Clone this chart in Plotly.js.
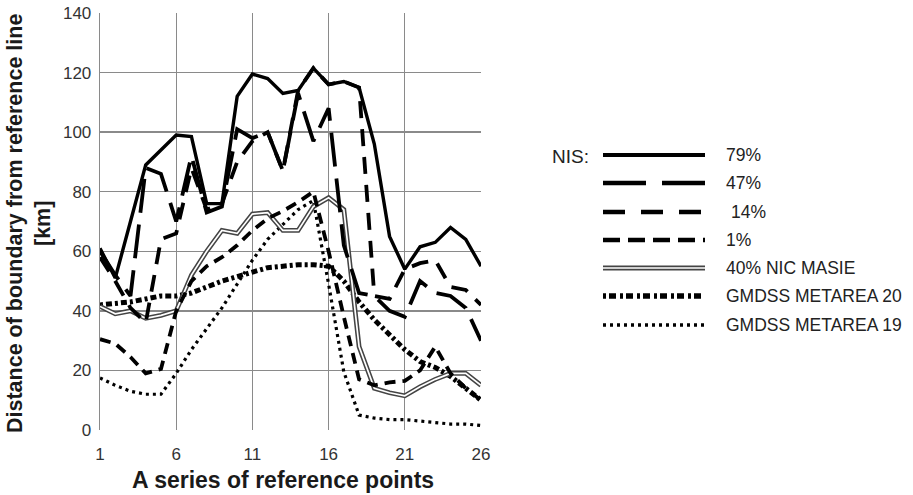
<!DOCTYPE html>
<html>
<head>
<meta charset="utf-8">
<script src="https://cdn.plot.ly/plotly-3.0.1.min.js"></script>
<style>
html,body{margin:0;padding:0;background:#fff;}
#chart{width:913px;height:495px;}
</style>
</head>
<body>
<div id="chart"></div>
<script>
// ---- data ----
const points = [1,2,3,4,5,6,7,8,9,10,11,12,13,14,15,16,17,18,19,20,21,22,23,24,25,26];
const tickPoints = [1,6,11,16,21,26];
const nis79 = [61,51,70,89,94,99,98.5,76,76,112,119.5,118,113,114,121.5,116,117,115,96,65,54,61.5,63,68,64,55];
const nis47 = [60,52,45,88,86,70,92,73,75,101,98,100,87,113,97,108,62,46,45,40,38,50,46,45,41,30];
const nis14 = [58,50,41,36,64,66,88,74,76,90,97,100,87,114,121.5,116,117,115,45,44,54,56,57,48,47,42];
const nis1  = [30.5,29,24.5,19,20.5,40,50,55,58,62,67,71,73.5,76.5,80,60,38,17,15,16,16.5,20,28,19,14,10];
const nicMasie = [41.5,39,40,37.5,38.5,40,52,60,67,66,72.5,73,67,67,75,78,74,28,14,12.5,11.5,14.5,17,19,19,15];
const metarea20 = [42,42.5,43,44,45,45,46,48,50,51.5,53,54.5,55,55.5,55.5,55,50,43,37,32,27,23,21,18,14,10];
const metarea19 = [17.5,15,13,12,12,19,27,34,41,49,57,64,69,74,77,49,19.5,5,4,3.5,3.5,3,2.5,2,2,1.5];
const legendLabels = ['79%','47%','14%','1%','40% NIC MASIE','GMDSS METAREA 20','GMDSS METAREA 19'];
const xTitle = 'A series of reference points';
const yTitle = 'Distance of boundary from reference line<br>[km]';

// ---- styles ----
const W = 913, H = 495;
const M = {l:100, r:432, t:13, b:65};
const FONT = 'Liberation Sans, Arial, sans-serif';
const styles = {
  s79: {color:'#000', width:3.4, dash:'solid'},
  s47: {color:'#000', width:3.8, dash:'34px,12px'},
  s14: {color:'#000', width:3.8, dash:'17px,11px'},
  s1:  {color:'#000', width:3.8, dash:'11px,7px'},
  nicOuter: {color:'#444', width:4.8, dash:'solid'},
  nicInner: {color:'#fff', width:1.7, dash:'solid'},
  g20: {color:'#000', width:5, dash:'3px,3px,6px,3px'},
  g19: {color:'#000', width:3.2, dash:'3px,4px'}
};
const legendStyles = [
  {color:'#000', width:4, dash:'solid'},
  {color:'#000', width:4.5, dash:'43px,16px'},
  {color:'#000', width:4.5, dash:'22px,16px'},
  {color:'#000', width:4.5, dash:'17px,8px'},
  null,
  {color:'#000', width:5.5, dash:'3px,3px,7px,4px'},
  {color:'#000', width:3.4, dash:'3px,4px'}
];

function tr(y, st){
  return {x:points, y:y, type:'scatter', mode:'lines', line:st, hoverinfo:'skip', showlegend:false};
}
const data = [
  tr(metarea19, styles.g19),
  tr(metarea20, styles.g20),
  tr(nicMasie, styles.nicOuter),
  tr(nicMasie, styles.nicInner),
  tr(nis1, styles.s1),
  tr(nis14, styles.s14),
  tr(nis47, styles.s47),
  tr(nis79, styles.s79)
];

// legend drawn in pixel positions converted to paper coords
const pw = W - M.l - M.r, ph = H - M.t - M.b;
const px = v => (v - M.l)/pw;
const py = v => (H - M.b - v)/ph;
const legRows = [155,183,212,240,268,296,325];
const shapes = [];
const annotations = [];
legRows.forEach((yy,i)=>{
  if (i === 4){
    shapes.push({type:'line', xref:'paper', yref:'paper', x0:px(603), x1:px(705), y0:py(yy), y1:py(yy), line:styles.nicOuter});
    shapes.push({type:'line', xref:'paper', yref:'paper', x0:px(603), x1:px(705), y0:py(yy), y1:py(yy), line:styles.nicInner});
  } else {
    shapes.push({type:'line', xref:'paper', yref:'paper', x0:px(603), x1:px(705), y0:py(yy), y1:py(yy), line:legendStyles[i]});
  }
  annotations.push({xref:'paper', yref:'paper', x:px(i===2?729:724), y:py(yy), xanchor:'left', yanchor:'middle',
    text:legendLabels[i], showarrow:false, font:{family:FONT, size:17.5, color:'#222'}});
});
annotations.push({xref:'paper', yref:'paper', x:px(591), y:py(156), xanchor:'right', yanchor:'middle',
  text:'NIS:', showarrow:false, font:{family:FONT, size:19, color:'#222'}});
// axis titles
annotations.push({xref:'paper', yref:'paper', x:px(283), y:py(480), xanchor:'center', yanchor:'middle',
  text:'<b>'+xTitle+'</b>', showarrow:false, font:{family:FONT, size:23, color:'#1a1a1a'}});
annotations.push({xref:'paper', yref:'paper', x:px(29), y:py(224), xanchor:'center', yanchor:'middle', textangle:-90,
  text:'<b>'+yTitle+'</b>', showarrow:false, font:{family:FONT, size:21.5, color:'#1a1a1a'}});

const layout = {
  width:W, height:H,
  margin:M,
  paper_bgcolor:'#fff', plot_bgcolor:'#fff',
  showlegend:false,
  font:{family:FONT, color:'#333'},
  xaxis:{
    range:[1,26], tickvals:tickPoints, ticktext:tickPoints.map(String),
    showgrid:true, gridcolor:'#8a8a8a', gridwidth:1.3, zeroline:false,
    showline:false, ticks:'', tickfont:{size:17, color:'#333'}, ticklabelstandoff:12
  },
  yaxis:{
    range:[0,140], dtick:20, showgrid:true, gridcolor:'#8a8a8a', gridwidth:1.3,
    zeroline:false, showline:true, linecolor:'#8a8a8a', linewidth:1.3, ticks:'',
    tickfont:{size:17, color:'#333'}, ticklabelstandoff:4
  },
  shapes:shapes,
  annotations:annotations
};

Plotly.newPlot('chart', data, layout, {displayModeBar:false, staticPlot:true});
</script>
</body>
</html>
